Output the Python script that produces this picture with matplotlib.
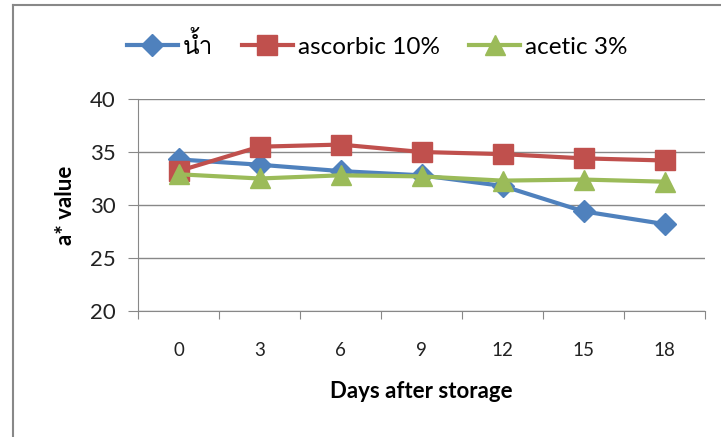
import matplotlib
matplotlib.use("Agg")
import matplotlib.pyplot as plt
from matplotlib import font_manager, ft2font
from matplotlib.lines import Line2D

days = ["0", "3", "6", "9", "12", "15", "18"]
water = [34.3, 33.8, 33.2, 32.8, 31.8, 29.4, 28.2]
ascorbic = [33.2, 35.5, 35.7, 35.0, 34.8, 34.4, 34.2]
acetic = [32.9, 32.5, 32.8, 32.7, 32.3, 32.4, 32.2]
labels = ["น้ำ", "ascorbic 10%", "acetic 3%"]
y_ticks = [20, 25, 30, 35, 40]

# find some installed font that has Thai glyphs
thai_font = None
for f in font_manager.fontManager.ttflist:
    try:
        if 0x0E19 in ft2font.FT2Font(f.fname).get_charmap():
            thai_font = f.name
            break
    except Exception:
        pass

plt.rcParams['font.family'] = ['Lato', 'DejaVu Sans']

fig = plt.figure(figsize=(7.21, 4.37), dpi=100)
ax = fig.add_axes([138/721, 1-311/437, (705-138)/721, (311-99)/437])

x = list(range(len(days)))
ax.plot(x, water, color='#4F81BD', lw=3, marker='D', ms=11, label=labels[0])
ax.plot(x, ascorbic, color='#C0504D', lw=3, marker='s', ms=14, label=labels[1])
ax.plot(x, acetic, color='#9BBB59', lw=3, marker='^', ms=15, label=labels[2])

ax.set_xlim(-0.5, len(days) - 0.5)
ax.set_ylim(20, 40)
ax.set_yticks(y_ticks)
ax.tick_params(axis='y', labelsize=16, length=7, color='#888888', pad=9, labelcolor='#222222')
ax.set_xticks([i - 0.5 for i in range(len(days) + 1)])
ax.set_xticklabels([])
ax.set_xticks(x, minor=True)
ax.set_xticklabels(days, minor=True)
ax.tick_params(axis='x', which='major', length=6, color='#888888', direction='out')
ax.tick_params(axis='x', which='minor', length=0, labelsize=13.5, pad=22, labelcolor='#222222')
ax.grid(axis='y', color='#888888', lw=1)
ax.set_axisbelow(True)
for s in ['top', 'right']:
    ax.spines[s].set_visible(False)
for s in ['left', 'bottom']:
    ax.spines[s].set_color('#888888')

ax.set_ylabel('a* value', fontsize=16, fontweight='bold', labelpad=10)
ax.set_xlabel('Days after storage', fontsize=16, fontweight='bold', labelpad=16)

leg = fig.legend(loc='center', bbox_to_anchor=(377/721, 1-45/437), ncol=3, frameon=False,
                 fontsize=17.5, handlelength=2.1, handletextpad=0.2, columnspacing=1.2)
if thai_font:
    leg.get_texts()[0].set_family([thai_font, 'DejaVu Sans'])

# outer chart frame
fig.add_artist(Line2D([13/721, 13/721], [0, 1-5/437], color='#888888', lw=1.5))
fig.add_artist(Line2D([13/721, 1], [1-5/437, 1-5/437], color='#888888', lw=1.5))

fig.savefig('out.png', dpi=100)
